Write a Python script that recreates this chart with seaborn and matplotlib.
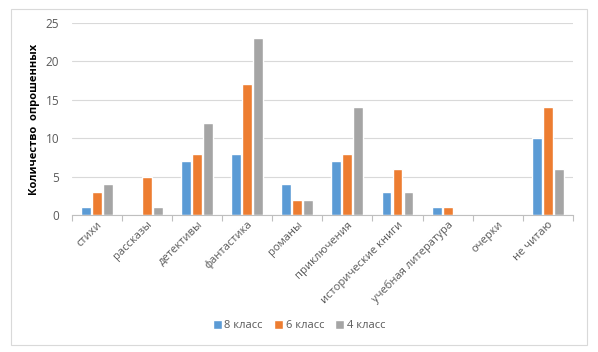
import pandas as pd
import seaborn as sns
import matplotlib.pyplot as plt
from matplotlib.patches import Rectangle
from matplotlib.ticker import MultipleLocator, FixedLocator

sns.set_theme(style="white")
plt.rcParams['font.family'] = ['Open Sans', 'DejaVu Sans']

# Data
genres = ["стихи", "рассказы", "детективы", "фантастика", "романы",
          "приключения", "исторические книги", "учебная литература",
          "очерки", "не читаю"]
grade8 = [1, 0, 7, 8, 4, 7, 3, 1, 0, 10]
grade6 = [3, 5, 8, 17, 2, 8, 6, 1, 0, 14]
grade4 = [4, 1, 12, 23, 2, 14, 3, 0, 0, 6]
series_names = ["8 класс", "6 класс", "4 класс"]

df = pd.DataFrame({"genre": genres, series_names[0]: grade8,
                   series_names[1]: grade6, series_names[2]: grade4})
long = df.melt(id_vars="genre", var_name="class", value_name="count")

palette = {"8 класс": "#5B9BD5", "6 класс": "#ED7D31", "4 класс": "#A5A5A5"}

fig = plt.figure(figsize=(5.98, 3.52), dpi=100)
ax = fig.add_axes([0.120, 0.389, 0.838, 0.546])

sns.barplot(data=long, x="genre", y="count", hue="class", palette=palette,
            width=0.66, gap=0.1, saturation=1, ax=ax, legend=True)

ax.set_ylim(0, 25)
ax.set_xlim(-0.5, len(genres) - 0.5)
ax.yaxis.set_major_locator(MultipleLocator(5))
ax.grid(axis="y", color="#D9D9D9", linewidth=0.8)
ax.set_axisbelow(True)
for s in ["left", "right", "top"]:
    ax.spines[s].set_visible(False)
ax.spines["bottom"].set_color("#BFBFBF")
ax.spines["bottom"].set_linewidth(0.8)

ax.tick_params(axis="y", labelsize=8.5, colors="#595959", length=0, pad=9)
ax.tick_params(axis="x", which="major", labelsize=8, colors="#595959", length=0, pad=3)
ax.xaxis.set_minor_locator(FixedLocator([i - 0.5 for i in range(len(genres) + 1)]))
ax.tick_params(axis="x", which="minor", length=4, color="#BFBFBF", width=0.8, bottom=True)
plt.setp(ax.get_xticklabels(), rotation=45, ha="right", rotation_mode="anchor")

ax.set_xlabel("")
ax.set_ylabel("Количество  опрошенных", fontsize=8, fontweight="bold", color="black", labelpad=4)

handles, labels = ax.get_legend_handles_labels()
ax.legend_.remove()
fig.legend(handles, labels, loc="center", bbox_to_anchor=(0.5, 0.075), ncol=3,
           frameon=False, fontsize=8, handlelength=0.8, handleheight=0.8,
           handletextpad=0.25, columnspacing=1.0, labelcolor="#595959")

fig.patches.append(Rectangle((0.018, 0.02), 0.963, 0.955, transform=fig.transFigure,
                             fill=False, edgecolor="#D9D9D9", linewidth=0.8))

fig.savefig("out.png", dpi=100)
